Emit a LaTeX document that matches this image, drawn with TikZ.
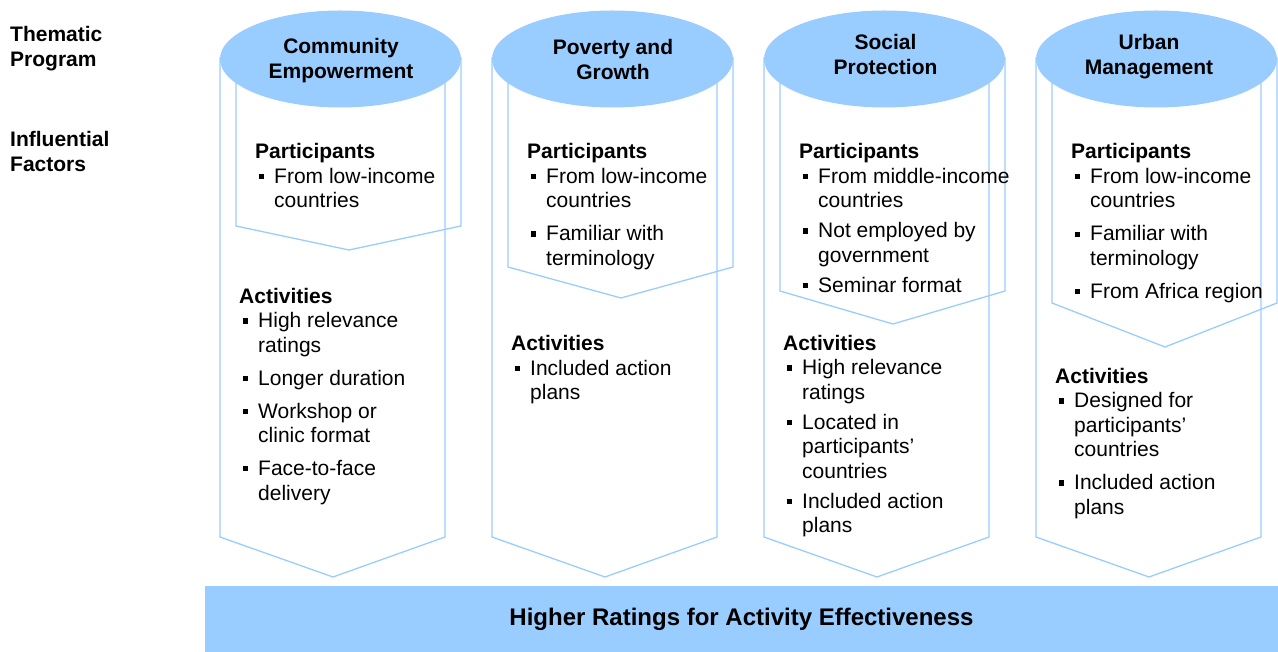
\documentclass[tikz,border=0pt]{standalone}
\usepackage{fontspec}
\setmainfont{Liberation Sans}
\usetikzlibrary{shapes.geometric}
\definecolor{ltblue}{HTML}{99CCFF}
\newcommand{\bul}{\makebox[19pt][l]{\hspace*{3.5pt}\rule[4pt]{5.5pt}{5.5pt}}}
\newcommand{\ind}{\hspace*{19pt}}
\tikzset{
    pillar/.style={draw=ltblue, line width=1.3pt},
    theme/.style={ellipse, fill=ltblue, minimum width=241pt, minimum height=97pt, inner sep=0pt},
    title/.style={anchor=base, align=center, font=\bfseries, inner sep=0pt},
    factors/.style={anchor=base west, align=left, inner sep=0pt},
    rowlabel/.style={anchor=base west, align=left, font=\bfseries, inner sep=0pt},
    banner/.style={fill=ltblue, minimum width=1073pt, minimum height=66pt, inner sep=0pt, font=\bfseries\fontsize{24}{28}\selectfont}
}

\begin{document}
\fontsize{21}{24.5}\selectfont
\begin{tikzpicture}[x=1pt, y=-1pt]
        \useasboundingbox (0, 0) rectangle (1278, 652);
        \draw[pillar] (220, 58) -- (445, 58) -- (445, 537) -- (333, 577) -- (220, 537) -- cycle;
        \draw[pillar] (236, 58) -- (461, 58) -- (461, 226) -- (349, 250) -- (236, 226) -- cycle;
        \draw[pillar] (492, 58) -- (717, 58) -- (717, 537) -- (605, 577) -- (492, 537) -- cycle;
        \draw[pillar] (508, 58) -- (733, 58) -- (733, 267) -- (621, 298) -- (508, 267) -- cycle;
        \draw[pillar] (764, 58) -- (989, 58) -- (989, 537) -- (877, 577) -- (764, 537) -- cycle;
        \draw[pillar] (780, 58) -- (1005, 58) -- (1005, 291) -- (893, 324) -- (780, 291) -- cycle;
        \draw[pillar] (1036, 58) -- (1261, 58) -- (1261, 537) -- (1149, 577) -- (1036, 537) -- cycle;
        \draw[pillar] (1052, 58) -- (1277, 58) -- (1277, 303) -- (1165, 347) -- (1052, 303) -- cycle;
        \path (340.5, 59) node[theme](ce) {} (612.5, 59) node[theme](pg) {} (884.5, 59) node[theme](sp) {} (1156.5, 59) node[theme](um) {};
        \path (341, 78.5) node[title](cet) {Community\\Empowerment}
            (613, 79.5) node[title](pgt) {Poverty and\\Growth}
            (885.5, 74.5) node[title](spt) {Social\\Protection}
            (1149, 74.5) node[title](umt) {Urban\\Management};
        \path (10, 66.5) node[rowlabel](thm) {Thematic\\Program}
            (10, 171.5) node[rowlabel](inf) {Influential\\Factors};
        \path (255, 208) node[factors](cep) {\textbf{Participants}\\ \bul From low-income\\ \ind countries};
        \path (239, 500) node[factors](cea) {\textbf{Activities}\\ \bul High relevance\\ \ind ratings\\[8.5pt] \bul Longer duration\\[8.5pt] \bul Workshop or\\ \ind clinic format\\[8.5pt] \bul Face-to-face\\ \ind delivery};
        \path (527, 265.5) node[factors](pgp) {\textbf{Participants}\\ \bul From low-income\\ \ind countries\\[8.5pt] \bul Familiar with\\ \ind terminology};
        \path (511, 399.5) node[factors](pga) {\textbf{Activities}\\ \bul Included action\\ \ind plans};
        \path (799, 292.5) node[factors](spp) {\textbf{Participants}\\ \bul From middle-income\\ \ind countries\\[5.5pt] \bul Not employed by\\ \ind government\\[5.5pt] \bul Seminar format};
        \path (783, 532.5) node[factors](spa) {\textbf{Activities}\\ \bul High relevance\\ \ind ratings\\[5.5pt] \bul Located in\\ \ind participants’\\ \ind countries\\[5.5pt] \bul Included action\\ \ind plans};
        \path (1071, 298.5) node[factors](ump) {\textbf{Participants}\\ \bul From low-income\\ \ind countries\\[8.5pt] \bul Familiar with\\ \ind terminology\\[8.5pt] \bul From Africa region};
        \path (1055, 514) node[factors](uma) {\textbf{Activities}\\ \bul Designed for\\ \ind participants’\\ \ind countries\\[8.5pt] \bul Included action\\ \ind plans};
        \path (741.5, 619) node[banner](hr) {Higher Ratings for Activity Effectiveness};
    \end{tikzpicture}
\end{document}
